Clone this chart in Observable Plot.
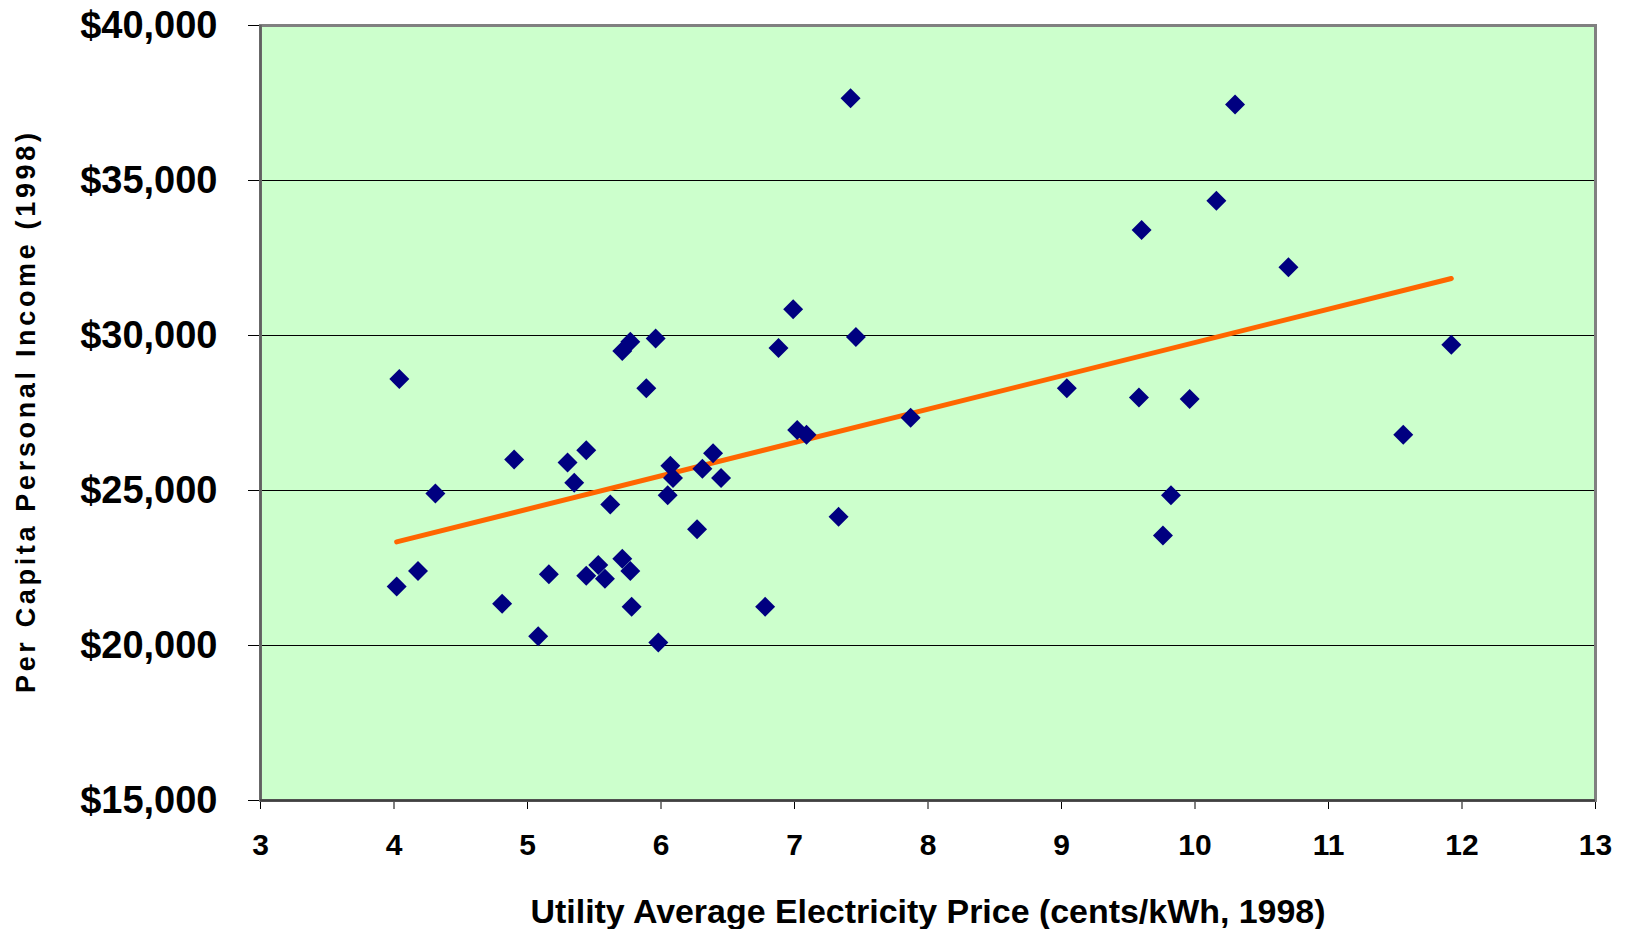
<!DOCTYPE html>
<html>
<head>
<meta charset="utf-8">
<script src="https://cdn.jsdelivr.net/npm/d3@7"></script>
<script src="https://cdn.jsdelivr.net/npm/@observablehq/plot@0.6"></script>
<style>
  html, body { margin: 0; padding: 0; background: #ffffff; }
  #chart { width: 1630px; height: 929px; }
</style>
</head>
<body>
<div id="chart"></div>
<script>
// Utility average electricity price (cents/kWh, 1998)
const priceCents = [
  4.02, 4.04, 4.18, 4.31, 4.81, 4.90, 5.08, 5.16, 5.30, 5.35,
  5.44, 5.44, 5.53, 5.58, 5.62, 5.71, 5.77, 5.78, 5.71, 5.77,
  5.89, 5.96, 5.98, 6.05, 6.07, 6.09, 6.27, 6.31, 6.39, 6.45,
  6.78, 6.88, 6.99, 7.02, 7.09, 7.33, 7.42, 7.46, 7.87, 9.04,
  9.58, 9.60, 9.76, 9.82, 9.96, 10.16, 10.30, 10.70, 11.56, 11.92
];
// Per capita personal income (1998, $)
const income = [
  21900, 28600, 22400, 24900, 21350, 26000, 20300, 22300, 25900, 25250,
  26300, 22250, 22600, 22150, 24550, 22800, 22400, 21250, 29500, 29800,
  28300, 29900, 20100, 24850, 25800, 25400, 23750, 25700, 26200, 25400,
  21250, 29600, 30850, 26950, 26800, 24150, 37650, 29950, 27350, 28300,
  28000, 33400, 23550, 24850, 27950, 34350, 37450, 32200, 26800, 29700
];
const xTicks = [3, 4, 5, 6, 7, 8, 9, 10, 11, 12, 13];
const yTicks = [15000, 20000, 25000, 30000, 35000, 40000];
const gridValues = [20000, 25000, 30000, 35000];
const xTitle = "Utility Average Electricity Price (cents/kWh, 1998)";
const yTitle = "Per Capita Personal Income (1998)";

const data = priceCents.map((p, i) => ({price: p, income: income[i]}));

const chart = Plot.plot({
  width: 1630,
  height: 929,
  marginLeft: 260,
  marginRight: 35,
  marginTop: 25,
  marginBottom: 129,
  style: {
    fontFamily: "'Liberation Sans', Arial, sans-serif",
    fontWeight: "bold",
    background: "#ffffff",
    color: "#000000"
  },
  x: {domain: [3, 13]},
  y: {domain: [15000, 40000]},
  marks: [
    Plot.frame({fill: "#ccffcc"}),
    Plot.gridY(gridValues, {stroke: "#000000", strokeOpacity: 1, strokeWidth: 1}),
    Plot.axisY(yTicks, {
      tickSize: 12, tickPadding: 31, fontSize: 38, stroke: "#000000",
      tickFormat: d => "$" + d3.format(",")(d),
      label: yTitle, labelArrow: "none", labelAnchor: "center", labelOffset: 245
    }),
    Plot.axisX(xTicks, {
      tickSize: 9, tickPadding: 24, fontSize: 30, stroke: "#000000",
      tickFormat: d => String(d),
      label: xTitle, labelArrow: "none", labelAnchor: "center", labelOffset: 122
    }),
    Plot.frame({stroke: "#808080", strokeWidth: 3}),
    Plot.ruleX([3], {stroke: "#606060", strokeWidth: 2.5}),
    Plot.ruleY([15000], {stroke: "#404040", strokeWidth: 2.5}),
    Plot.linearRegressionY(data, {x: "price", y: "income", stroke: "#ff6600", strokeWidth: 5, ci: 0}),
    Plot.dot(data, {x: "price", y: "income", symbol: "diamond2", r: 9, fill: "#000080", stroke: "none"})
  ]
});

document.getElementById("chart").appendChild(chart);

const svg = d3.select(chart);
svg.selectAll('g[aria-label="x-axis label"] text')
  .text(xTitle)
  .style("font-size", "34px")
  .attr("textLength", 795)
  .attr("lengthAdjust", "spacingAndGlyphs");
svg.selectAll('g[aria-label="y-axis label"] text')
  .text(yTitle)
  .style("font-size", "27px")
  .attr("textLength", 560)
  .attr("lengthAdjust", "spacing");
</script>
</body>
</html>
